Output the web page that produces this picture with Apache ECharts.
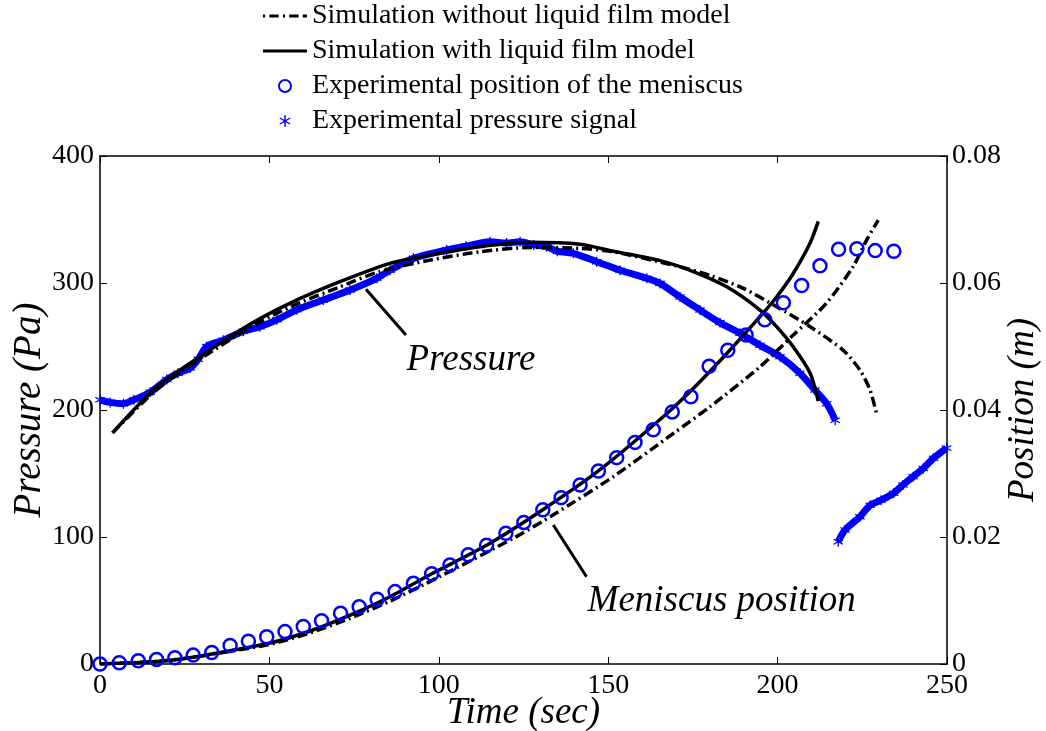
<!DOCTYPE html>
<html>
<head>
<meta charset="utf-8">
<script src="https://cdn.jsdelivr.net/npm/echarts@6/dist/echarts.min.js"></script>
<style>
html,body{margin:0;padding:0;background:#fff;}
#main{width:1046px;height:731px;}
</style>
</head>
<body>
<div id="main"></div>
<script>
// ---------- data ----------
var xTicks = [0, 50, 100, 150, 200, 250];
var pressureTicks = [0, 100, 200, 300, 400];
var positionTicks = [0, 0.02, 0.04, 0.06, 0.08];

// Simulation without liquid film model (dash-dot) : [time, Pa]
var simWithoutPressure = [[3.7,182],[16.7,216],[29.5,240],[44.3,265],[56,281],[70.8,297],[82.6,309],[97.4,318],[112.2,324.6],[126.9,328],[141.7,327.3],[151.5,324.6],[170.2,313.4],[180,306],[189.9,295.8],[199.7,281.3],[209.6,265.6],[219.4,247],[224.3,231.5],[227.3,215.7],[229.3,196]];
// Simulation without liquid film model (dash-dot) : [time, m]
var simWithoutPosition = [[0,0],[16.7,0.0004],[26.6,0.001],[38.4,0.002],[50.2,0.0031],[62,0.0049],[73.8,0.0072],[85.6,0.0099],[100.4,0.0138],[122,0.0198],[133.8,0.0235],[151.5,0.0295],[169.2,0.0363],[180,0.0405],[194.8,0.0468],[204.6,0.0518],[214.4,0.0568],[222.3,0.0626],[226.3,0.0668],[229.7,0.0699]];
// Simulation with liquid film model (solid) : [time, Pa]
var simWithPressure = [[3.7,182],[16.7,218],[29.5,242],[44.3,267.5],[56,284],[70.8,301],[85.6,315.5],[97.4,322],[112.2,328.6],[126.9,332],[141.7,330.5],[151.5,325],[165.3,317.6],[175.1,309],[185,297],[194.8,278.7],[199.7,265.6],[204.6,249.8],[209.6,229],[212,207]];
// Simulation with liquid film model (solid) : [time, m]
var simWithPosition = [[0,0],[10,0.0002],[16.7,0.0004],[26.6,0.001],[38.4,0.0021],[50.2,0.0033],[62,0.0052],[73.8,0.0077],[85.6,0.0106],[97.9,0.0142],[114.1,0.0187],[130.7,0.0243],[147.1,0.0304],[165.3,0.0385],[175.1,0.0434],[185,0.0489],[194.8,0.0547],[199.7,0.0578],[204.6,0.0615],[209.6,0.0663],[212,0.0697]];
// Experimental position of the meniscus (circles) : [time, m]
var meniscusTime = [0,5.7,11.3,16.7,22.1,27.5,33,38.4,43.8,49.2,54.6,60,65.4,71,76.5,81.8,87.1,92.5,97.9,103.3,108.7,114.1,119.8,125.1,130.7,136.1,141.7,147.1,152.5,157.9,163.3,168.9,174.4,179.8,185.3,190.7,196.2,201.7,207.1,212.5,218,223.4,228.8,234.3];
var meniscusPos = [0,0.0002,0.0005,0.0007,0.001,0.0014,0.0018,0.0029,0.0036,0.0043,0.0051,0.0059,0.0068,0.008,0.009,0.0102,0.0114,0.0127,0.0142,0.0156,0.0172,0.0187,0.0206,0.0223,0.0243,0.0262,0.0282,0.0304,0.0325,0.0349,0.0369,0.0397,0.0421,0.0469,0.0494,0.0518,0.0542,0.0569,0.0596,0.0627,0.0653,0.0654,0.0651,0.065];
// Experimental pressure signal (stars) : [time, Pa], two recorded segments
var pressureSignalA = [[0,208],[3,206],[6.9,205],[10,208],[14.8,214],[19.7,224],[23,229],[26.6,233],[29,240],[31.5,250],[36.4,255],[42.3,262],[47.2,265.6],[52.2,271],[58.1,279],[65.9,286.6],[73.8,294.5],[81.7,303.7],[85.6,310],[92.5,319.4],[102.3,326],[108,329],[115.1,332.5],[120,331.5],[124,332.5],[128,330],[131.8,328.6],[135,325],[139.7,323.4],[146.6,316.8],[153.5,310],[161.4,303.7],[165.3,299.7],[171.2,289],[177.1,278.7],[183,268.7],[188.9,260.4],[194.8,251],[200.7,242],[206.6,229],[211,215.7],[214.5,205],[217,192]];
var pressureSignalB = [[217.9,96.3],[219.9,105.5],[224.3,116],[227.3,125],[230.5,129],[234.2,134.4],[237,141],[240,147.5],[243,154],[246,162],[249.9,170]];

// annotations: [time, Pa]
var pressureArrow = [[90.3,259],[78.5,295]];
var pressureText = {text:'Pressure', at:[109.5,239]};
var meniscusArrow = [[143.6,68.7],[133.8,109.4]];
var meniscusText = {text:'Meniscus position', at:[183.5,49]};

// ---------- chart ----------
var SERIF = '"Liberation Serif","Times New Roman",Times,serif';
var NAME_WITHOUT = 'Simulation without liquid film model';
var NAME_WITH = 'Simulation with liquid film model';
var NAME_MEN = 'Experimental position of the meniscus';
var NAME_PS = 'Experimental pressure signal';
var STAR = 'path://M-0.6,-5L0.6,-5L0.6,5L-0.6,5Z M-4.63,-1.98L-4.03,-3.02L4.63,1.98L4.03,3.02Z M4.03,-3.02L4.63,-1.98L-4.03,3.02L-4.63,1.98Z';
var ICON_SOLID = 'path://M0,0L42,0L42,3L0,3Z';
var ICON_DASHDOT = 'path://M0,0L2,0L2,3L0,3Z M6,0L15,0L15,3L6,3Z M19,0L21,0L21,3L19,3Z M25,0L34,0L34,3L25,3Z M38,0L42,0L42,3L38,3Z';
var DASHDOT = [10, 4, 2, 4];
var BLUE = '#0000ff';

var meniscusData = meniscusTime.map(function(t, i){ return [t, meniscusPos[i]]; });

var chart = echarts.init(document.getElementById('main'), null, {renderer:'canvas'});

var axisLineStyle = {color:'#000', width:1.5};
var option = {
  animation:false,
  backgroundColor:'#fff',
  textStyle:{fontFamily:SERIF},
  grid:{left:100, right:99, top:156, bottom:67, containLabel:false, outerBoundsMode:'none'},
  legend:{
    orient:'vertical', left:263, top:2, padding:0,
    itemWidth:44, itemHeight:12, itemGap:7,
    textStyle:{fontFamily:SERIF, fontSize:28, color:'#000', lineHeight:28},
    data:[
      {name:NAME_WITHOUT, icon:ICON_DASHDOT, itemStyle:{color:'#000'}},
      {name:NAME_WITH, icon:ICON_SOLID, itemStyle:{color:'#000'}},
      {name:NAME_MEN},
      {name:NAME_PS, icon:STAR}
    ]
  },
  xAxis:[{
    type:'value', position:'bottom', min:0, max:250, interval:50,
    name:'Time (sec)', nameLocation:'middle', nameGap:31, nameMoveOverlap:false,
    nameTextStyle:{fontFamily:SERIF, fontSize:37, fontStyle:'italic', color:'#000', verticalAlign:'top'},
    axisLine:{show:true, onZero:false, lineStyle:axisLineStyle},
    axisTick:{show:true, inside:true, length:7, lineStyle:{color:'#000', width:1}},
    axisLabel:{fontFamily:SERIF, fontSize:28, color:'#000', margin:8,
      formatter:function(v){ return xTicks.indexOf(v) >= 0 ? String(v) : ''; }},
    splitLine:{show:false}
  },{
    type:'value', position:'top', min:0, max:250, interval:50,
    axisLine:{show:true, onZero:false, lineStyle:axisLineStyle},
    axisTick:{show:true, inside:true, length:7, lineStyle:{color:'#000', width:1}},
    axisLabel:{show:false}, splitLine:{show:false}
  }],
  yAxis:[{
    type:'value', position:'left', min:0, max:400, interval:100,
    name:'Pressure (Pa)', nameLocation:'middle', nameGap:51, nameMoveOverlap:false,
    nameTextStyle:{fontFamily:SERIF, fontSize:39, fontStyle:'italic', color:'#000'},
    axisLine:{show:true, onZero:false, lineStyle:axisLineStyle},
    axisTick:{show:true, inside:true, length:7, lineStyle:{color:'#000', width:1}},
    axisLabel:{fontFamily:SERIF, fontSize:28, color:'#000', margin:6,
      formatter:function(v){ return pressureTicks.indexOf(v) >= 0 ? String(v) : ''; }},
    splitLine:{show:false}
  },{
    type:'value', position:'right', min:0, max:0.08, interval:0.02,
    name:'Position (m)', nameLocation:'middle', nameGap:58, nameMoveOverlap:false,
    nameTextStyle:{fontFamily:SERIF, fontSize:37, fontStyle:'italic', color:'#000'},
    axisLine:{show:true, onZero:false, lineStyle:axisLineStyle},
    axisTick:{show:true, inside:true, length:7, lineStyle:{color:'#000', width:1}},
    axisLabel:{fontFamily:SERIF, fontSize:28, color:'#000', margin:5,
      formatter:function(v){
        for (var i=0;i<positionTicks.length;i++){ if (Math.abs(positionTicks[i]-v)<1e-9) return String(positionTicks[i]); }
        return '';
      }},
    splitLine:{show:false}
  }],
  series:[
    // experimental pressure band
    {name:'pressureBandA', type:'line', yAxisIndex:0, data:pressureSignalA, smooth:0.3,
      symbol:'none', lineStyle:{color:BLUE, width:7}, z:1, silent:true},
    {name:'pressureBandB', type:'line', yAxisIndex:0, data:pressureSignalB, smooth:0.3,
      symbol:'none', lineStyle:{color:BLUE, width:7}, z:1, silent:true},
    {name:NAME_PS, type:'scatter', yAxisIndex:0, data:pressureSignalA.concat(pressureSignalB),
      symbol:STAR, symbolSize:10, itemStyle:{color:BLUE, opacity:1}, z:2},
    // simulations, pressure
    {name:NAME_WITHOUT, type:'line', yAxisIndex:0, data:simWithoutPressure, smooth:0.25,
      symbol:'none', lineStyle:{color:'#000', width:3.5, type:DASHDOT}, itemStyle:{color:'#000'}, z:3},
    {name:NAME_WITH, type:'line', yAxisIndex:0, data:simWithPressure, smooth:0.25,
      symbol:'none', lineStyle:{color:'#000', width:3.5}, itemStyle:{color:'#000'}, z:4,
      markLine:{silent:true, symbol:['none','arrow'], symbolSize:[0,16],
        lineStyle:{color:'#000', width:3, type:'solid'}, label:{show:false},
        data:[
          [{coord:pressureArrow[0]},{coord:pressureArrow[1]}],
          [{coord:meniscusArrow[0]},{coord:meniscusArrow[1]}]
        ]},
      markPoint:{silent:true, symbol:'circle', symbolSize:0,
        label:{show:true, position:'inside', fontFamily:SERIF, fontSize:37, fontStyle:'italic', color:'#000',
          formatter:function(p){ return p.name; }},
        data:[
          {name:pressureText.text, coord:pressureText.at},
          {name:meniscusText.text, coord:meniscusText.at}
        ]}
    },
    // simulations, position
    {name:NAME_WITHOUT, type:'line', yAxisIndex:1, data:simWithoutPosition, smooth:0.25,
      symbol:'none', lineStyle:{color:'#000', width:3.5, type:DASHDOT}, itemStyle:{color:'#000'}, z:3},
    {name:NAME_WITH, type:'line', yAxisIndex:1, data:simWithPosition, smooth:0.25,
      symbol:'none', lineStyle:{color:'#000', width:3.5}, itemStyle:{color:'#000'}, z:4},
    // experimental meniscus position
    {name:NAME_MEN, type:'scatter', yAxisIndex:1, data:meniscusData,
      symbol:'circle', symbolSize:13,
      itemStyle:{color:'rgba(0,0,0,0)', borderColor:BLUE, borderWidth:2.5, opacity:1}, z:5}
  ]
};
chart.setOption(option);
</script>
</body>
</html>
